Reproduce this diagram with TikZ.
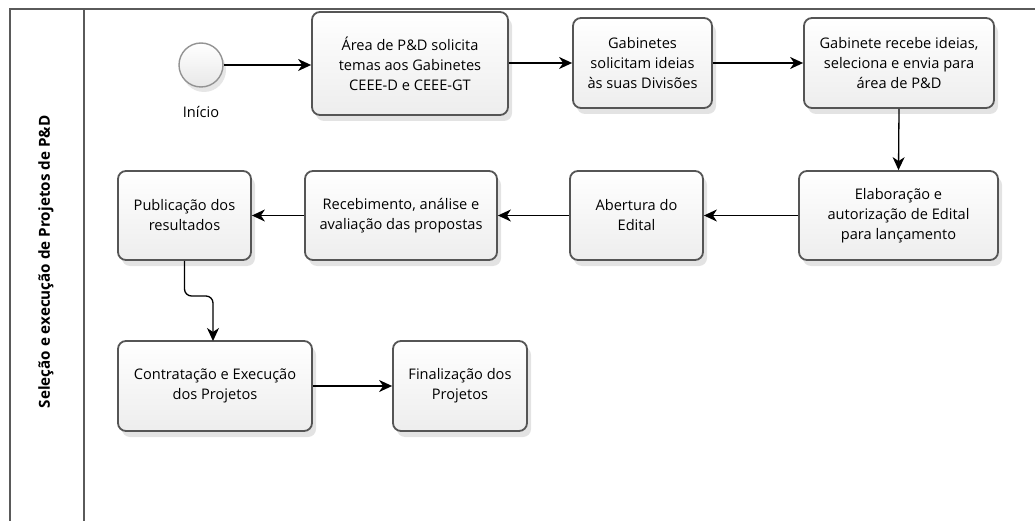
\documentclass[tikz,border=0pt]{standalone}
\usepackage{fontspec}
\setsansfont{Open Sans}
\usetikzlibrary{arrows.meta,shadows}

\definecolor{lanegray}{RGB}{90,90,90}
\definecolor{boxgray}{RGB}{85,85,85}

\begin{document}
\begin{tikzpicture}[x=1pt,y=-1pt]
		\useasboundingbox (0,0) rectangle (1035,521);
		\tikzset{Tarefa/.style = {draw=boxgray,line width=1.8pt,rounded corners=8pt,
				top color=white,bottom color=gray!14,
				drop shadow={opacity=0.22,shadow xshift=4pt,shadow yshift=-6pt},
				align=center,font=\sffamily\fontsize{14.6}{20}\selectfont,inner sep=2pt},
			Fluxo/.style = {draw=black,line width=1.3pt,-{Stealth[length=13pt,width=12pt,inset=4pt]}}}
		% raia
		\draw[lanegray,line width=1.6pt] (10,521) -- (10,9) -- (1035,9);
		\draw[lanegray,line width=1.6pt] (84,9) -- (84,521);
		\node[rotate=90,font=\sffamily\bfseries\fontsize{15.2}{18}\selectfont] (raia) at (46,262) {Seleção e execução de Projetos de P\&D};
		% eventos e tarefas
		\node[circle,draw=gray!85,line width=1.4pt,minimum size=44pt,inner sep=0pt,
			top color=white,bottom color=gray!18,drop shadow={opacity=0.2,shadow xshift=3pt,shadow yshift=-5pt}] (inicio) at (201,65) {};
		\node[font=\sffamily\fontsize{14.6}{18}\selectfont] (rotulo) at (201,112) {Início};
		\node[Tarefa,minimum width=196pt,minimum height=103pt] (area) at (410,63.5) {Área de P\&D solicita\\temas aos Gabinetes\\CEEE-D e CEEE-GT};
		\node[Tarefa,minimum width=139pt,minimum height=90pt] (gab) at (642.5,63) {Gabinetes\\solicitam ideias\\às suas Divisões};
		\node[Tarefa,minimum width=190pt,minimum height=90pt] (recebe) at (899,63) {Gabinete recebe ideias,\\seleciona e envia para\\área de P\&D};
		\node[Tarefa,minimum width=199pt,minimum height=89pt] (edital) at (898.5,215.5) {Elaboração e\\autorização de Edital\\para lançamento};
		\node[Tarefa,minimum width=133pt,minimum height=89pt] (abertura) at (636.5,215.5) {Abertura do\\Edital};
		\node[Tarefa,minimum width=192pt,minimum height=89pt] (analise) at (401,215.5) {Recebimento, análise e\\avaliação das propostas};
		\node[Tarefa,minimum width=133pt,minimum height=89pt] (public) at (184.5,215.5) {Publicação dos\\resultados};
		\node[Tarefa,minimum width=194pt,minimum height=90pt] (contrat) at (215,386) {Contratação e Execução\\dos Projetos};
		\node[Tarefa,minimum width=134pt,minimum height=90pt] (final) at (460,386) {Finalização dos\\Projetos};
		% fluxos
		\draw[Fluxo] (inicio) -- (inicio -| area.west);
		\draw[Fluxo] (area.east |- gab.west) -- (gab.west);
		\draw[Fluxo] (gab.east) -- (recebe.west);
		\draw[Fluxo] (recebe.south) -- (edital.north);
		\draw[Fluxo] (edital.west) -- (abertura.east);
		\draw[Fluxo] (abertura.west) -- (analise.east);
		\draw[Fluxo] (analise.west) -- (public.east);
		\draw[Fluxo,rounded corners=7pt] (public.south) -- (184.5,296) -- (213,296) -- (213,341);
		\draw[Fluxo] (contrat.east) -- (final.west);
	\end{tikzpicture}
\end{document}
